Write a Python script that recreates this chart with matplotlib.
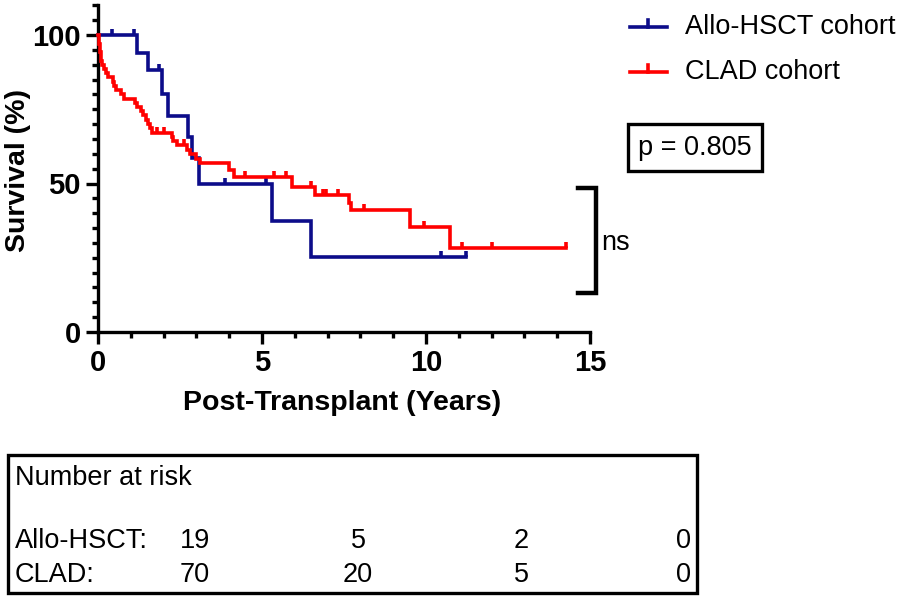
import matplotlib
matplotlib.use('Agg')
import matplotlib.pyplot as plt
import numpy as np
from matplotlib.path import Path
from matplotlib.lines import Line2D
from matplotlib.patches import Rectangle

plt.rcParams['font.family'] = ['Liberation Sans', 'DejaVu Sans']

# ---------------- data ----------------
allo_times = [0, 1.18, 1.53, 1.95, 2.14, 2.75, 2.88, 3.08, 5.31, 6.48, 11.21]
allo_surv = [100, 94.1, 88.2, 80.0, 72.7, 65.8, 58.5, 50.0, 37.5, 25.1, 25.1]
allo_censor = [0.43, 1.10, 1.87, 3.86, 5.13, 10.45, 11.21]

clad_times = [0, 0.03, 0.05, 0.08, 0.12, 0.18, 0.24, 0.30, 0.45, 0.50, 0.56,
              0.70, 0.78, 1.12, 1.20, 1.30, 1.38, 1.45, 1.52, 1.58, 1.66,
              2.25, 2.30, 2.40, 2.72, 2.80, 3.00, 3.10, 4.00, 4.15, 5.92,
              6.62, 7.65, 7.72, 9.51, 10.74, 14.26]
clad_surv = [100, 97.1, 94.3, 91.4, 90.0, 88.6, 87.1, 85.7, 84.3, 82.9, 81.4,
             80.0, 78.6, 77.1, 75.7, 74.3, 72.9, 71.4, 70.0, 68.6, 67.1,
             65.7, 64.3, 62.8, 61.3, 59.9, 58.4, 57.0, 54.5, 52.1, 48.9,
             46.1, 43.6, 41.1, 35.2, 28.2, 28.2]
clad_censor = [1.80, 2.00, 2.63, 4.48, 5.37, 5.74, 6.50, 6.86, 6.96, 7.31,
               8.10, 9.93, 11.10, 12.00, 14.26]

series_names = ['Allo-HSCT cohort', 'CLAD cohort']
series_colors = ['#0C0C8A', '#FF0000']

risk_times = [0, 5, 10, 15]
risk_labels = ['Allo-HSCT:', 'CLAD:']
allo_risk = [19, 5, 2, 0]
clad_risk = [70, 20, 5, 0]
p_text = 'p = 0.805'

# ---------------- figure ----------------
W, H = 904, 596
fig = plt.figure(figsize=(W / 100, H / 100), dpi=100)

def fx(px):
    return px / W

def fy(py):
    return 1 - py / H

ax_left, ax_right, ax_top, ax_bottom = 98, 590, 5.3, 332
ax = fig.add_axes([fx(ax_left), fy(ax_bottom), fx(ax_right - ax_left), (ax_bottom - ax_top) / H])

tick_path = Path([(0, 0), (0, 1)], [Path.MOVETO, Path.LINETO])

def step_value(times, surv, t):
    idx = np.searchsorted(times, t, side='right') - 1
    return surv[max(idx, 0)]

LW = 2.6
for times, surv, cens, col in [(allo_times, allo_surv, allo_censor, series_colors[0]),
                               (clad_times, clad_surv, clad_censor, series_colors[1])]:
    ax.step(times, surv, where='post', color=col, lw=LW, clip_on=False,
            solid_joinstyle='miter', zorder=3)
    cy = [step_value(times, surv, t) for t in cens]
    ax.plot(cens, cy, ls='none', marker=tick_path, markersize=9,
            markeredgewidth=LW, color=col, clip_on=False, zorder=3)

ax.set_xlim(0, 15)
ax.set_ylim(0, 110)
ax.set_xticks([0, 5, 10, 15])
ax.set_xticks(np.arange(0, 16, 1), minor=True)
ax.set_yticks([0, 50, 100])
ax.set_yticks(np.arange(0, 111, 5), minor=True)
for s in ['top', 'right']:
    ax.spines[s].set_visible(False)
for s in ['left', 'bottom']:
    ax.spines[s].set_linewidth(2.4)
ax.tick_params(which='major', length=8.5, width=2.4, labelsize=21, pad=4)
ax.tick_params(which='minor', length=4.5, width=2.4)
for lab in ax.get_xticklabels() + ax.get_yticklabels():
    lab.set_fontweight('bold')

fig.text(fx(342), fy(403), 'Post-Transplant (Years)', fontsize=20.5, fontweight='bold',
         ha='center', va='center')
fig.text(fx(18), fy(171), 'Survival (%)', fontsize=20.5, fontweight='bold',
         ha='center', va='center', rotation=90)

# legend
for i, (name, col) in enumerate(zip(series_names, series_colors)):
    yy = 27 + 45 * i
    fig.add_artist(Line2D([fx(630), fx(667)], [fy(yy), fy(yy)], color=col, lw=LW,
                          transform=fig.transFigure))
    fig.add_artist(Line2D([fx(648), fx(648)], [fy(yy), fy(yy - 7)], color=col, lw=LW,
                          transform=fig.transFigure))
    fig.text(fx(685), fy(yy), name, fontsize=19.5, ha='left', va='center')

# p-value box
fig.add_artist(Rectangle((fx(628), fy(171)), fx(134), 47 / H, fill=False, lw=2.4,
                         edgecolor='black', transform=fig.transFigure))
fig.text(fx(695), fy(148), p_text, fontsize=19.5, ha='center', va='center')

# bracket + ns
fig.add_artist(Line2D([fx(578), fx(596), fx(596), fx(578)],
                      [fy(188), fy(188), fy(293), fy(293)], color='black', lw=3.2,
                      solid_joinstyle='miter', transform=fig.transFigure))
fig.text(fx(616), fy(243), 'ns', fontsize=19.5, ha='center', va='center')

# number at risk table
fig.add_artist(Rectangle((fx(8), fy(593)), fx(689), 138 / H, fill=False, lw=2.4,
                         edgecolor='black', transform=fig.transFigure))
fig.text(fx(15), fy(478), 'Number at risk', fontsize=19.5, ha='left', va='center')
row_y = [541, 575]
for lbl, vals, yy in zip(risk_labels, [allo_risk, clad_risk], row_y):
    fig.text(fx(15), fy(yy), lbl, fontsize=19.5, ha='left', va='center')
    for t, v in zip(risk_times, vals):
        xc = 195 + t * (684 - 195) / 15
        fig.text(fx(xc), fy(yy), str(v), fontsize=19.5, ha='center', va='center')

fig.savefig('out.png', dpi=100)
